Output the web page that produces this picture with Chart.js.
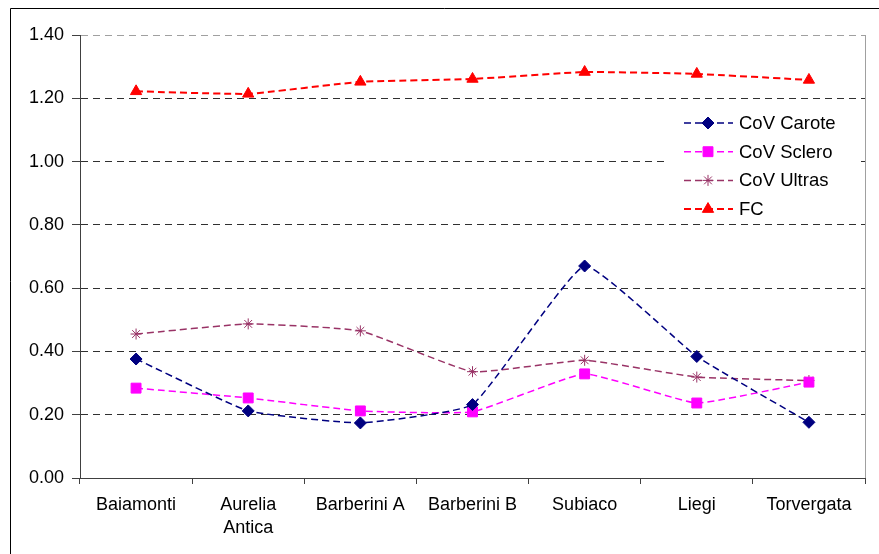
<!DOCTYPE html>
<html lang="it">
<head>
<meta charset="UTF-8">
<title>CoV e FC per sito</title>
<script src="https://cdn.jsdelivr.net/npm/chart.js@4.4.0/dist/chart.umd.min.js"></script>
<style>
    html, body { margin: 0; padding: 0; background: #fff; }
    #wrap { width: 879px; height: 554px; position: relative; }
</style>
</head>
<body>
<div id="wrap"><canvas id="covChart"></canvas></div>
<script>
// dati
const siti = ['Baiamonti', ['Aurelia', 'Antica'], 'Barberini A', 'Barberini B', 'Subiaco', 'Liegi', 'Torvergata'];
const covCarote = [0.376, 0.212, 0.174, 0.232, 0.670, 0.384, 0.176];
const covSclero = [0.284, 0.253, 0.212, 0.209, 0.329, 0.237, 0.303];
const covUltras = [0.455, 0.487, 0.465, 0.336, 0.372, 0.319, 0.308];
const fc = [1.222, 1.214, 1.252, 1.261, 1.283, 1.277, 1.258];
const yTicks = [0, 0.2, 0.4, 0.6, 0.8, 1.0, 1.2, 1.4];

const font = "'Liberation Sans', Arial, sans-serif";

// bordo esterno + bordo destro dell'area del grafico
const frame = {
    id: 'frame',
    beforeDraw(chart) {
        const c = chart.ctx;
        c.save();
        c.strokeStyle = '#000';
        c.lineWidth = 1;
        c.beginPath();
        c.moveTo(10.5, 554);
        c.lineTo(10.5, 8.5);
        c.lineTo(879, 8.5);
        c.stroke();
        c.restore();
    },
    afterDatasetsDraw(chart) {
        const a = chart.chartArea;
        const c = chart.ctx;
        c.save();
        c.strokeStyle = '#a0a0a0';
        c.lineWidth = 1;
        c.beginPath();
        c.moveTo(Math.round(a.right) + 0.5, a.top);
        c.lineTo(Math.round(a.right) + 0.5, a.bottom);
        c.stroke();
        c.restore();
    }
};

// legenda dentro l'area del grafico, come in Excel
const legendBox = {
    id: 'legendBox',
    afterDraw(chart) {
        const c = chart.ctx;
        c.save();
        c.fillStyle = '#fff';
        c.fillRect(668, 108, 188, 114);
        c.font = '18.5px ' + font;
        c.textBaseline = 'middle';
        chart.data.datasets.forEach((ds, i) => {
            const y = 123 + i * 28.7;
            c.strokeStyle = ds.borderColor;
            c.lineWidth = ds.borderWidth;
            c.setLineDash(ds.borderDash);
            c.beginPath();
            c.moveTo(684, y);
            c.lineTo(733, y);
            c.stroke();
            c.setLineDash([]);
            c.fillStyle = ds.pointBackgroundColor;
            c.strokeStyle = ds.pointBorderColor;
            c.lineWidth = ds.pointBorderWidth;
            Chart.helpers.drawPoint(c, {
                pointStyle: ds.pointStyle,
                radius: ds.pointRadius,
                rotation: 0,
                borderWidth: ds.pointBorderWidth
            }, 708, y);
            c.fillStyle = '#000';
            c.fillText(ds.label, 739, y + 1);
        });
        c.restore();
    }
};

function serie(label, data, color, style, radius, width) {
    return {
        label: label,
        data: data,
        borderColor: color,
        backgroundColor: color,
        borderWidth: width,
        borderDash: [7, 4],
        tension: 0.12,
        pointStyle: style,
        pointRadius: radius,
        pointHoverRadius: radius,
        pointBackgroundColor: color,
        pointBorderColor: color,
        pointBorderWidth: 1
    };
}

new Chart(document.getElementById('covChart'), {
    type: 'line',
    data: {
        labels: siti,
        datasets: [
            serie('CoV Carote', covCarote, '#000080', 'rectRot', 6, 1.5),
            serie('CoV Sclero', covSclero, '#ff00ff', 'rect', 7, 1.5),
            serie('CoV Ultras', covUltras, '#993366', 'star', 5.5, 1.5),
            serie('FC', fc, '#ff0000', 'triangle', 6.5, 2)
        ]
    },
    options: {
        responsive: true,
        maintainAspectRatio: false,
        animation: false,
        layout: { padding: { left: 10, top: 35, right: 14, bottom: 0 } },
        plugins: {
            legend: { display: false },
            tooltip: { enabled: false }
        },
        scales: {
            x: {
                offset: true,
                afterFit(scale) { scale.height = 76; },
                grid: {
                    offset: true,
                    drawOnChartArea: false,
                    drawTicks: true,
                    tickLength: 6,
                    tickColor: '#404040'
                },
                border: { color: '#404040', width: 1 },
                ticks: {
                    color: '#000',
                    padding: 9,
                    maxRotation: 0,
                    autoSkip: false,
                    font: { family: font, size: 18, lineHeight: 1.3 }
                }
            },
            y: {
                min: 0,
                max: 1.4,
                afterFit(scale) { scale.width = 70; },
                afterBuildTicks(scale) { scale.ticks = yTicks.map(v => ({ value: v })); },
                grid: {
                    color: ctx => (ctx.tick && ctx.tick.value >= 1.4) ? '#a0a0a0' : '#303030',
                    tickBorderDash: [],
                    tickLength: 8,
                    tickColor: '#404040'
                },
                border: { color: '#404040', width: 1, dash: [7, 5] },
                ticks: {
                    color: '#000',
                    padding: 8,
                    font: { family: font, size: 18 },
                    callback: v => Number(v).toFixed(2)
                }
            }
        }
    },
    plugins: [frame, legendBox]
});
</script>
</body>
</html>
